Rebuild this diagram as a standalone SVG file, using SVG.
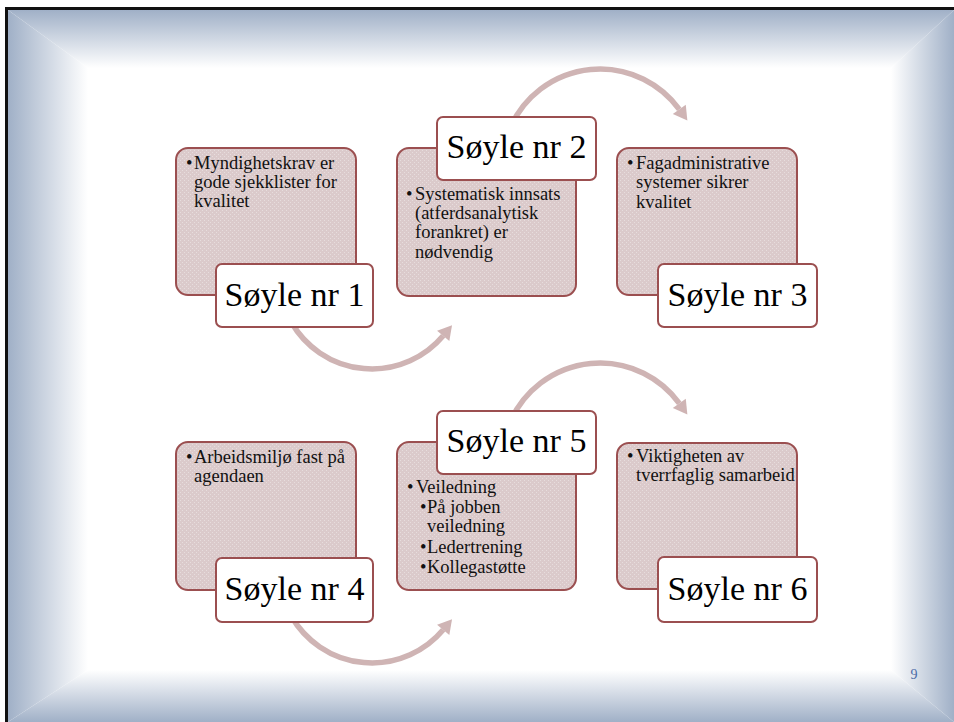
<svg xmlns="http://www.w3.org/2000/svg" width="954" height="722" viewBox="0 0 954 722">
<style>
.box{stroke:#9b4f50;stroke-width:2;fill:url(#tex)}
.lbl{stroke:#9b4f50;stroke-width:2;fill:#ffffff}
.lt{font-family:"Liberation Serif","Times New Roman",serif;font-size:34px;fill:#000;text-anchor:middle}
.bt{font-family:"Liberation Serif","Times New Roman",serif;font-size:18.5px;fill:#111}
.arc{fill:none;stroke:#cfb4b4;stroke-width:5.5;marker-end:url(#ah)}
</style>
<defs>
<pattern id="tex" width="4" height="4" patternUnits="userSpaceOnUse">
<rect width="4" height="4" fill="#dbcacb"/>
<rect x="0" y="0" width="1" height="1" fill="#e7dddd"/>
<rect x="2" y="2" width="1" height="1" fill="#e7dddd"/>
</pattern>
<linearGradient id="gT" x1="0" y1="10" x2="0" y2="68" gradientUnits="userSpaceOnUse"><stop offset="0" stop-color="#a0b0c7"/><stop offset="1" stop-color="#ffffff"/></linearGradient>
<linearGradient id="gL" x1="8" y1="0" x2="88" y2="0" gradientUnits="userSpaceOnUse"><stop offset="0" stop-color="#a0b0c7"/><stop offset="1" stop-color="#ffffff"/></linearGradient>
<linearGradient id="gR" x1="954" y1="0" x2="891" y2="0" gradientUnits="userSpaceOnUse"><stop offset="0" stop-color="#a0b0c7"/><stop offset="1" stop-color="#ffffff"/></linearGradient>
<linearGradient id="gB" x1="0" y1="722" x2="0" y2="670" gradientUnits="userSpaceOnUse"><stop offset="0" stop-color="#a0b0c7"/><stop offset="1" stop-color="#ffffff"/></linearGradient>
<marker id="ah" markerUnits="userSpaceOnUse" markerWidth="16" markerHeight="16" refX="0" refY="7" orient="auto" viewBox="0 0 12 14">
<path d="M0,0 L12,7 L0,14 z" fill="#cfb4b4"/>
</marker>
</defs>
<rect x="0" y="0" width="954" height="722" fill="#ffffff"/>
<polygon points="8,10 954,10 891,68 88,68" fill="url(#gT)"/>
<polygon points="8,10 88,68 88,670 8,722" fill="url(#gL)"/>
<polygon points="954,10 954,722 891,670 891,68" fill="url(#gR)"/>
<polygon points="8,722 88,670 891,670 954,722" fill="url(#gB)"/>
<rect x="5" y="7" width="949" height="3" fill="#111"/>
<rect x="5" y="7" width="3" height="715" fill="#111"/>

<g id="connectors">
<path class="arc" d="M291.5,322.5 A93,93 0 0 0 443.2,335.8"/>
<path class="arc" d="M511.2,125.6 A98,98 0 0 1 679.3,109.4"/>
<path class="arc" d="M291.5,616.5 A93,93 0 0 0 443.2,629.8"/>
<path class="arc" d="M511.2,419.6 A98,98 0 0 1 679.3,403.4"/>
</g>

<g id="node1">
<rect class="box" x="176" y="148" width="180" height="147" rx="12"/>
<text class="bt" x="186" y="169">•</text>
<text class="bt" x="194" y="169">Myndighetskrav er</text>
<text class="bt" x="194" y="188">gode sjekklister for</text>
<text class="bt" x="194" y="207">kvalitet</text>
<rect class="lbl" x="216" y="264" width="157" height="63" rx="6"/>
<text class="lt" x="294.5" y="306">Søyle nr 1</text>
</g>
<g id="node2">
<rect class="box" x="397" y="148" width="179" height="148" rx="12"/>
<text class="bt" x="406" y="200">•</text>
<text class="bt" x="415" y="200">Systematisk innsats</text>
<text class="bt" x="415" y="219">(atferdsanalytisk</text>
<text class="bt" x="415" y="238">forankret) er</text>
<text class="bt" x="415" y="258">nødvendig</text>
<rect class="lbl" x="437" y="117" width="159" height="63" rx="6"/>
<text class="lt" x="516.5" y="158">Søyle nr 2</text>
</g>
<g id="node3">
<rect class="box" x="617" y="148" width="180" height="147" rx="12"/>
<text class="bt" x="627" y="169">•</text>
<text class="bt" x="636" y="169">Fagadministrative</text>
<text class="bt" x="636" y="188">systemer sikrer</text>
<text class="bt" x="636" y="208">kvalitet</text>
<rect class="lbl" x="658" y="264" width="159" height="63" rx="6"/>
<text class="lt" x="737.5" y="306">Søyle nr 3</text>
</g>
<g id="node4">
<rect class="box" x="176" y="442" width="180" height="148" rx="12"/>
<text class="bt" x="186" y="463">•</text>
<text class="bt" x="194" y="463">Arbeidsmiljø fast på</text>
<text class="bt" x="194" y="482">agendaen</text>
<rect class="lbl" x="216" y="558" width="157" height="64" rx="6"/>
<text class="lt" x="294.5" y="600">Søyle nr 4</text>
</g>
<g id="node5">
<rect class="box" x="397" y="442" width="179" height="148" rx="12"/>
<text class="bt" x="407" y="493">•</text>
<text class="bt" x="416" y="493">Veiledning</text>
<text class="bt" x="420" y="513">•</text>
<text class="bt" x="427" y="513">På jobben</text>
<text class="bt" x="427" y="532">veiledning</text>
<text class="bt" x="420" y="553">•</text>
<text class="bt" x="427" y="553">Ledertrening</text>
<text class="bt" x="420" y="573">•</text>
<text class="bt" x="427" y="573">Kollegastøtte</text>
<rect class="lbl" x="437" y="411" width="159" height="63" rx="6"/>
<text class="lt" x="516.5" y="452">Søyle nr 5</text>
</g>
<g id="node6">
<rect class="box" x="617" y="443" width="180" height="146" rx="12"/>
<text class="bt" x="627" y="462">•</text>
<text class="bt" x="636" y="462">Viktigheten av</text>
<text class="bt" x="636" y="481">tverrfaglig samarbeid</text>
<rect class="lbl" x="658" y="557" width="159" height="65" rx="6"/>
<text class="lt" x="737.5" y="600">Søyle nr 6</text>
</g>
<text x="914" y="679" font-family="Liberation Serif, serif" font-size="14" fill="#4a6ba6" text-anchor="middle">9</text>
</svg>
